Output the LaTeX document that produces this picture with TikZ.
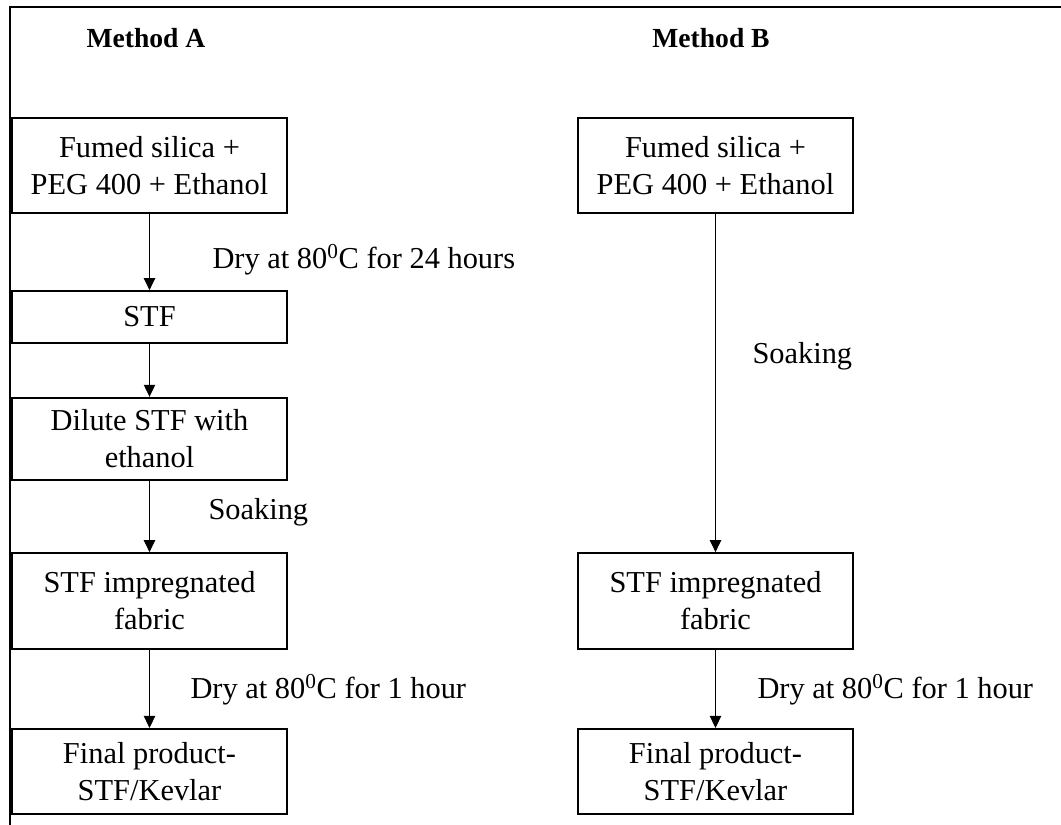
\documentclass[tikz,border=0pt]{standalone}
\usepackage{fontspec}
\setmainfont{Liberation Serif}
\usetikzlibrary{arrows.meta,positioning}

\begin{document}
\begin{tikzpicture}[
    x=0.75pt,
    y=-0.75pt,
    font=\fontsize{22.8}{27.8}\selectfont,
    >={Triangle[width=8.5pt,length=9pt]},
    line width=0.8pt,
    box/.style={
        draw,
        rectangle,
        line width=1.3pt,
        minimum width=206pt,
        minimum height=#1,
        align=center,
        inner sep=0pt
    },
    step label/.style={
        anchor=west,
        inner sep=0pt
    },
    heading/.style={
        font=\fontsize{20.7}{24}\selectfont\bfseries
    }
]

\useasboundingbox (0,0) rectangle (1061,825);

% outer frame (top and left only)
\draw[line width=2.2pt] (10,825) -- (10,7) -- (1061,7);

% =========================================================
% Method A
% =========================================================
\node[heading] (headA) at (146,38) {Method A};

\node[box=71pt] (fumA) at (149.5,165.5) {Fumed silica +\\PEG 400 + Ethanol};
\node[box=39pt] (stfA) at (149.5,317) {STF};
\node[box=62pt] (dilA) at (149.5,439) {Dilute STF with\\ethanol};
\node[box=72pt] (impA) at (149.5,601) {STF impregnated\\fabric};
\node[box=64pt] (finA) at (149.5,771.5) {Final product-\\STF/Kevlar};

\draw[->] (fumA.south) -- (stfA.north);
\draw[->] (stfA.south) -- (dilA.north);
\draw[->] (dilA.south) -- (impA.north);
\draw[->] (impA.south) -- (finA.north);

% step labels A
\node[step label] (dryA1) at (212,260) {Dry at 80\textsuperscript{0}C for 24 hours};
\node[step label] (soakA) at (208,512) {Soaking};
\node[step label] (dryA2) at (190,690) {Dry at 80\textsuperscript{0}C for 1 hour};

% =========================================================
% Method B
% =========================================================
\node[heading] (headB) at (711,38) {Method B};

\node[box=71pt] (fumB) at (715.5,165.5) {Fumed silica +\\PEG 400 + Ethanol};
\node[box=72pt] (impB) at (715.5,601) {STF impregnated\\fabric};
\node[box=64pt] (finB) at (715.5,771.5) {Final product-\\STF/Kevlar};

\draw[->] (fumB.south) -- (impB.north);
\draw[->] (impB.south) -- (finB.north);

% step labels B
\node[step label] (soakB) at (752,356) {Soaking};
\node[step label] (dryB) at (757,690) {Dry at 80\textsuperscript{0}C for 1 hour};

\end{tikzpicture}
\end{document}
